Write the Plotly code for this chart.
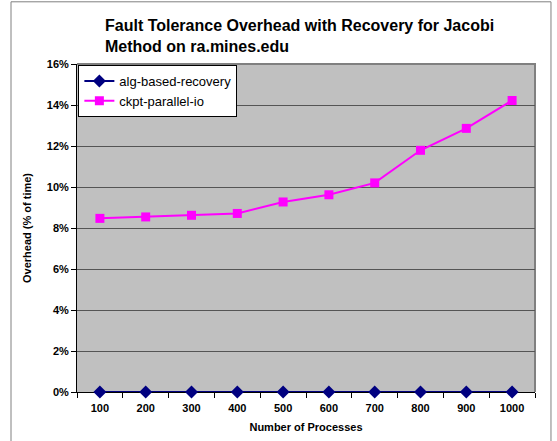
import plotly.graph_objects as go

processes = ["100", "200", "300", "400", "500", "600", "700", "800", "900", "1000"]
alg_based_recovery = [0, 0, 0, 0, 0, 0, 0, 0, 0, 0]
ckpt_parallel_io = [8.47, 8.54, 8.62, 8.71, 9.27, 9.62, 10.20, 11.79, 12.86, 14.22]
y_ticks = [0, 2, 4, 6, 8, 10, 12, 14, 16]
y_tick_labels = [f"{v}%" for v in y_ticks]

FONT = "Liberation Sans, Arial, sans-serif"

fig = go.Figure()
fig.add_trace(go.Scatter(
    x=processes, y=alg_based_recovery, name="alg-based-recovery",
    mode="lines+markers",
    line=dict(color="#000080", width=2),
    marker=dict(symbol="diamond", size=10, color="#000080"),
    cliponaxis=False,
))
fig.add_trace(go.Scatter(
    x=processes, y=ckpt_parallel_io, name="ckpt-parallel-io",
    mode="lines+markers",
    line=dict(color="#FF00FF", width=2),
    marker=dict(symbol="square", size=9, color="#FF00FF"),
    cliponaxis=False,
))

# outer chart frame
fig.add_shape(type="rect", xref="paper", yref="paper",
              x0=-0.1441, x1=1.0349, y0=-0.2, y1=1.1896,
              line=dict(color="#808080", width=1), layer="above")
# plot area border (top and right edges; left/bottom are the axis lines)
fig.add_shape(type="path", xref="paper", yref="paper",
              path="M 0 1 L 1 1 L 1 0",
              line=dict(color="#808080", width=2), layer="below")

fig.update_layout(
    width=557, height=441,
    margin=dict(l=77, r=22, t=64, b=49),
    paper_bgcolor="white",
    plot_bgcolor="#C0C0C0",
    font=dict(family=FONT, size=11, color="black"),
    title=dict(
        text="<b>Fault Tolerance Overhead with Recovery for Jacobi<br>Method on ra.mines.edu</b>",
        x=105 / 557, xanchor="left", y=0.93, yanchor="top",
        font=dict(family=FONT, size=16, color="black"),
    ),
    showlegend=True,
    legend=dict(
        x=0.003, y=0.997, xanchor="left", yanchor="top",
        bgcolor="white", bordercolor="black", borderwidth=1,
        font=dict(family=FONT, size=13, color="black"),
        tracegroupgap=0, itemwidth=30,
    ),
    xaxis=dict(
        type="category", range=[-0.5, 9.5], automargin=False,
        layer="below traces",
        showgrid=False, showline=True, linecolor="black", linewidth=1,
        ticks="outside", tickson="boundaries", ticklen=5, tickcolor="black",
        ticklabelstandoff=6,
        tickfont=dict(family=FONT, size=11, color="black", weight="bold"),
        title=dict(text="<b>Number of Processes</b>", standoff=10,
                   font=dict(family=FONT, size=11, color="black")),
        zeroline=False,
    ),
    yaxis=dict(
        range=[0, 16], tickvals=y_ticks, ticktext=y_tick_labels,
        automargin=False, layer="below traces",
        showgrid=True, gridcolor="#555555", gridwidth=1,
        showline=True, linecolor="black", linewidth=1,
        ticks="outside", ticklen=5, tickcolor="black",
        tickfont=dict(family=FONT, size=11, color="black", weight="bold"),
        title=dict(text="<b>Overhead (% of time)</b>", standoff=12,
                   font=dict(family=FONT, size=11, color="black")),
        zeroline=False,
    ),
)

fig.write_html("out.html")
